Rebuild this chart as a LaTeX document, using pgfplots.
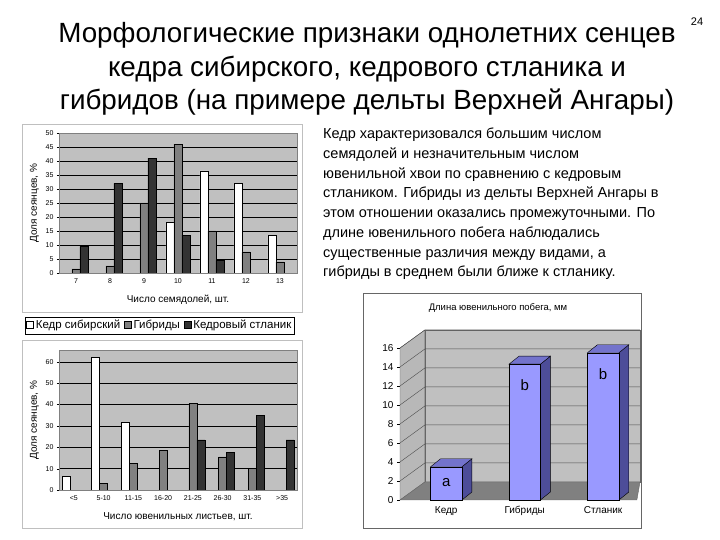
\documentclass[border=0pt]{standalone}
\usepackage{pgfplots}
\pgfplotsset{compat=1.18}
\usepackage{fontspec}
\setmainfont{Liberation Sans}
\definecolor{bgg}{HTML}{C0C0C0}
\definecolor{hyb}{HTML}{808080}
\definecolor{stl}{HTML}{333333}
\definecolor{barf}{HTML}{9999FF}
\definecolor{bars}{HTML}{4D4D99}
\definecolor{bart}{HTML}{7373CC}
\definecolor{wall}{HTML}{C0C0C0}
\definecolor{swall}{HTML}{B8B8B8}
\definecolor{floorc}{HTML}{808080}
\newcommand{\fs}[1]{\fontsize{#1}{#1}\selectfont}
\pgfplotsset{
  excelbar/.style={scale only axis, width=238pt, height=140pt, ybar=0pt, bar width=8pt,
    axis background/.style={fill=bgg}, ymajorgrids, grid style={black, line width=0.4pt},
    ymin=0, axis line style={gray}, tick pos=left,
    tick label style={font=\fs{7}}, label style={font=\fs{10}},
    xlabel style={yshift=-5pt},
    /pgf/number format/assume math mode=true,
    xtick style={draw=none}, ytick style={black}, tick align=outside, major tick length=2pt,
    every axis plot/.append style={draw=black, line width=0.4pt},
  }
}
\begin{document}
\begin{tikzpicture}
\path[use as bounding box] (0,0) rectangle (720pt,540pt);
\node[font=\fs{11}] at (697pt,518pt) {24};
\node[font=\fontsize{27.8}{33.5}\selectfont, align=center] at (367pt,471pt)
 {Морфологические признаки однолетних сенцев\\кедра сибирского, кедрового стланика и\\гибридов (на примере дельты Верхней Ангары)};
\node[font=\fontsize{14.5}{19.7}\selectfont, align=left, anchor=north west, inner sep=0pt] at (323pt,412pt)
 {Кедр характеризовался большим числом\\
семядолей и незначительным числом\\
ювенильной хвои по сравнению с кедровым\\
стлаником. Гибриды из дельты Верхней Ангары в\\
этом отношении оказались промежуточными. По\\
длине ювенильного побега наблюдались\\
существенные различия между видами, а\\
гибриды в среднем были ближе к стланику.};
% frames
\draw[gray!50] (22pt,228pt) rectangle (302pt,416pt);
\draw[gray!50] (22pt,12pt) rectangle (302pt,200pt);
\draw[black!60] (363pt,12pt) rectangle (641pt,247pt);

% top chart
\begin{axis}[excelbar, at={(59pt,267pt)}, anchor=south west,
  ymax=50, ytick={0,5,...,50}, xmin=6.5, xmax=13.5, xtick={7,...,13},
  xlabel={Число семядолей, шт.}, ylabel={Доля сеянцев, \%}]
\addplot[fill=white] coordinates {(10,18) (11,36.5) (12,32) (13,13.5)};
\addplot[fill=hyb] coordinates {(7,1.5) (8,2.5) (9,25) (10,46) (11,15) (12,7.5) (13,4)};
\addplot[fill=stl] coordinates {(7,9.5) (8,32) (9,41) (10,13.5) (11,4.5)};
\end{axis}

% bottom chart
\begin{axis}[excelbar, at={(59pt,50pt)}, anchor=south west,
  ymax=65.5, ytick={0,10,...,60}, xmin=-0.5, xmax=7.5, xtick={0,...,7},
  xticklabels={<5,5-10,11-15,16-20,21-25,26-30,31-35,>35},
  xlabel={Число ювенильных листьев, шт.}, ylabel={Доля сеянцев, \%},
  legend columns=3,
  legend style={at={(0.424,1.175)}, anchor=center, draw=black, font=\fs{11.5}, inner sep=1pt,
    nodes={text height=8.5pt, text depth=2.5pt},
    /tikz/every even column/.append style={column sep=2pt}},
  legend image code/.code={\draw[#1,draw=black] (0pt,-3pt) rectangle (7pt,4pt);}]
\addplot[fill=white] coordinates {(0,6.5) (1,62) (2,31.5)};
\addplot[fill=hyb] coordinates {(1,3) (2,12.5) (3,18.5) (4,40.5) (5,15.5) (6,10)};
\addplot[fill=stl] coordinates {(4,23.5) (5,17.5) (6,35) (7,23.5)};
\legend{Кедр сибирский,Гибриды,Кедровый стланик}
\end{axis}

% right chart
\node[font=\fs{9.5}] at (498pt,232pt) {Длина ювенильного побега, мм};
\begin{axis}[at={(400pt,40pt)}, anchor=south west, scale only axis, width=240pt, height=152pt,
  xmin=-0.59, xmax=2.47, ymin=0, ymax=16, clip=false, axis line style={draw=none},
  xtick={0,1,2}, xticklabels={Кедр,Гибриды,Стланик}, xtick style={draw=none},
  ytick={0,2,...,16}, ytick style={black}, tick pos=left, tick align=outside, major tick length=3pt,
  tick label style={font=\fs{10}}, /pgf/number format/assume math mode=true]
% walls and floor
\addplot[fill=wall, draw=black!60] coordinates {(-0.272,1.9) (2.47,1.9) (2.47,17.9) (-0.272,17.9)} -- cycle;
\addplot[fill=swall, draw=black!60] coordinates {(-0.59,0) (-0.59,16) (-0.272,17.9) (-0.272,1.9)} -- cycle;
\addplot[fill=floorc, draw=black!60] coordinates {(-0.59,0) (2.43,0) (2.47,1.9) (-0.272,1.9)} -- cycle;
\addplot[black!70] coordinates {(-0.59,2) (-0.272,3.9) (2.47,3.9)};
\addplot[black!70] coordinates {(-0.59,4) (-0.272,5.9) (2.47,5.9)};
\addplot[black!70] coordinates {(-0.59,6) (-0.272,7.9) (2.47,7.9)};
\addplot[black!70] coordinates {(-0.59,8) (-0.272,9.9) (2.47,9.9)};
\addplot[black!70] coordinates {(-0.59,10) (-0.272,11.9) (2.47,11.9)};
\addplot[black!70] coordinates {(-0.59,12) (-0.272,13.9) (2.47,13.9)};
\addplot[black!70] coordinates {(-0.59,14) (-0.272,15.9) (2.47,15.9)};
\addplot[black!70] coordinates {(-0.59,16) (-0.272,17.9) (2.47,17.9)};
% bar sides and tops
\addplot[fill=bars, draw=black] coordinates {(0.2,0) (0.327,0.84) (0.327,4.34) (0.2,3.5)} -- cycle;
\addplot[fill=bart, draw=black] coordinates {(-0.2,3.5) (0.2,3.5) (0.327,4.34) (-0.073,4.34)} -- cycle;
\addplot[fill=bars, draw=black] coordinates {(1.2,0) (1.327,0.84) (1.327,15.14) (1.2,14.3)} -- cycle;
\addplot[fill=bart, draw=black] coordinates {(0.8,14.3) (1.2,14.3) (1.327,15.14) (0.927,15.14)} -- cycle;
\addplot[fill=bars, draw=black] coordinates {(2.2,0) (2.327,0.84) (2.327,16.34) (2.2,15.5)} -- cycle;
\addplot[fill=bart, draw=black] coordinates {(1.8,15.5) (2.2,15.5) (2.327,16.34) (1.927,16.34)} -- cycle;
% bar fronts
\addplot[ybar, bar width=0.4, fill=barf, draw=black] coordinates {(0,3.5) (1,14.3) (2,15.5)};
\node[font=\fs{15}] at (axis cs:0,1.8) {a};
\node[font=\fs{15}] at (axis cs:1,12.1) {b};
\node[font=\fs{15}] at (axis cs:2,13.2) {b};
\end{axis}
\end{tikzpicture}
\end{document}
